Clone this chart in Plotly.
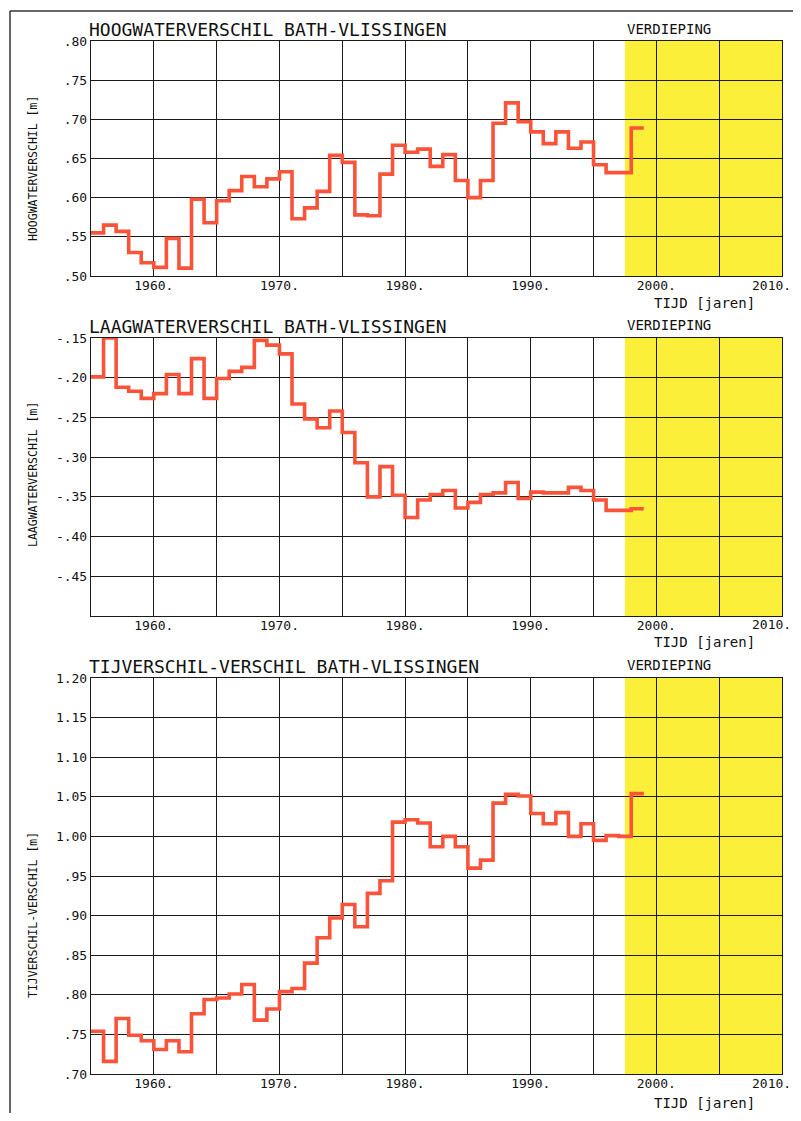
import plotly.graph_objects as go
from plotly.subplots import make_subplots

# ---- data ----
years = list(range(1955, 1999))  # each value holds for one year

hoogwater = [0.555, 0.565, 0.557, 0.530, 0.517, 0.511, 0.548, 0.510, 0.598, 0.568,
             0.596, 0.609, 0.627, 0.614, 0.624, 0.633, 0.573, 0.587, 0.608, 0.654,
             0.645, 0.578, 0.577, 0.630, 0.667, 0.658, 0.662, 0.640, 0.655, 0.622,
             0.600, 0.622, 0.695, 0.721, 0.697, 0.684, 0.669, 0.684, 0.663, 0.671,
             0.642, 0.632, 0.632, 0.689]

laagwater = [-0.199, -0.150, -0.212, -0.217, -0.226, -0.220, -0.196, -0.220, -0.176, -0.226,
             -0.201, -0.192, -0.187, -0.153, -0.159, -0.170, -0.233, -0.252, -0.263, -0.242,
             -0.269, -0.307, -0.350, -0.312, -0.348, -0.376, -0.354, -0.347, -0.342, -0.364,
             -0.357, -0.347, -0.345, -0.332, -0.352, -0.344, -0.345, -0.345, -0.338, -0.342,
             -0.354, -0.367, -0.367, -0.365]

tijverschil = [0.754, 0.716, 0.770, 0.749, 0.742, 0.731, 0.742, 0.728, 0.776, 0.794,
               0.796, 0.801, 0.813, 0.768, 0.782, 0.804, 0.808, 0.840, 0.872, 0.897,
               0.914, 0.886, 0.928, 0.944, 1.018, 1.021, 1.017, 0.987, 1.000, 0.987,
               0.960, 0.970, 1.042, 1.053, 1.051, 1.029, 1.016, 1.030, 1.000, 1.016,
               0.995, 1.001, 1.000, 1.054]

series_end = 1999
verdieping_start = 1997.5
x_range = [1955, 2010]

x_tickvals = [1960, 1965, 1970, 1975, 1980, 1985, 1990, 1995, 2000, 2005, 2010]
x_ticktext = ["1960.", "", "1970.", "", "1980.", "", "1990.", "", "2000.", "", ""]
last_tick_label = "2010."

hw_ticks = [0.50, 0.55, 0.60, 0.65, 0.70, 0.75, 0.80]
hw_labels = [".50", ".55", ".60", ".65", ".70", ".75", ".80"]
lw_ticks = [-0.50, -0.45, -0.40, -0.35, -0.30, -0.25, -0.20, -0.15]
lw_labels = ["", "-.45", "-.40", "-.35", "-.30", "-.25", "-.20", "-.15"]
tv_ticks = [0.70, 0.75, 0.80, 0.85, 0.90, 0.95, 1.00, 1.05, 1.10, 1.15, 1.20]
tv_labels = [".70", ".75", ".80", ".85", ".90", ".95", "1.00", "1.05", "1.10", "1.15", "1.20"]

titles = ["HOOGWATERVERSCHIL BATH-VLISSINGEN",
          "LAAGWATERVERSCHIL BATH-VLISSINGEN",
          "TIJVERSCHIL-VERSCHIL BATH-VLISSINGEN"]
ytitles = ["HOOGWATERVERSCHIL [m]", "LAAGWATERVERSCHIL [m]", "TIJVERSCHIL-VERSCHIL [m]"]

# ---- layout geometry (page pixels; the page body has an 8px margin) ----
OFF = 8
W, H = 801 - 2 * OFF, 1121 - 2 * OFF   # keep the page free of scrollbars
PLOT_L, PLOT_R, PLOT_T, PLOT_B = 91, 782, 41, 1074   # page coords
L = PLOT_L - OFF
T = PLOT_T - OFF
R = W - (PLOT_R - OFF)
B = H - (PLOT_B - OFF)
PH = PLOT_B - PLOT_T
PW = PLOT_R - PLOT_L

def py(y):  # page pixel y -> paper
    return (PLOT_B - y) / PH

def px(x):  # page pixel x -> paper
    return (x - PLOT_L) / PW

FONT = "DejaVu Sans Mono"
LINE = "#F9533A"
YELLOW = "#FCEF3A"
GRID = "#1a1a1a"

fig = make_subplots(rows=3, cols=1)

domains = [(py(276), py(41)), (py(616), py(338)), (py(1074), py(678))]
series = [hoogwater, laagwater, tijverschil]
yranges = [[0.50, 0.80], [-0.50, -0.15], [0.70, 1.20]]
yticks = [(hw_ticks, hw_labels), (lw_ticks, lw_labels), (tv_ticks, tv_labels)]

for i in range(3):
    vals = series[i]
    xs = years + [series_end]
    ys = vals + [vals[-1]]
    fig.add_trace(go.Scatter(x=xs, y=ys, mode="lines", line=dict(color=LINE, width=3.6, shape="hv"),
                             showlegend=False, hoverinfo="skip"), row=i + 1, col=1)
    ax = "" if i == 0 else str(i + 1)
    fig.add_shape(type="rect", xref="x" + ax, yref="y" + ax,
                  x0=verdieping_start, x1=x_range[1], y0=yranges[i][0], y1=yranges[i][1],
                  fillcolor=YELLOW, line=dict(width=0), layer="below")
    fig.update_xaxes(row=i + 1, col=1, range=x_range, tickvals=x_tickvals, ticktext=x_ticktext,
                     showgrid=True, gridcolor=GRID, gridwidth=1.4, showline=True, linecolor=GRID,
                     linewidth=1.4, mirror=True, zeroline=False, ticks="", ticklen=0,
                     ticklabeloverflow="allow", ticklabelstandoff=-3, automargin=False,
                     tickfont=dict(family=FONT, size=13, color="#111"))
    fig.update_yaxes(row=i + 1, col=1, range=yranges[i], tickvals=yticks[i][0], ticktext=yticks[i][1],
                     domain=list(domains[i]), automargin=False,
                     showgrid=True, gridcolor=GRID, gridwidth=1.4, showline=True, linecolor=GRID,
                     linewidth=1.4, mirror=True, zeroline=False, ticks="", ticklen=0,
                     ticklabeloverflow="allow",
                     tickfont=dict(family=FONT, size=13, color="#111"))

# annotations
title_y = [30, 326, 666]
ytitle_y = [169, 475, 915]
tijd_y = [303, 642, 1103]
xlabel_y = [285, 624, 1083]
ann = []
for i in range(3):
    ax = "" if i == 0 else str(i + 1)
    ann.append(dict(text=titles[i], xref="paper", yref="paper", x=px(87), y=py(title_y[i]),
                    xanchor="left", yanchor="middle", showarrow=False,
                    font=dict(family=FONT, size=18, color="#111")))
    ann.append(dict(text="VERDIEPING", xref="x" + ax, yref="paper", x=verdieping_start, y=py(title_y[i] - 1),
                    xanchor="left", yanchor="middle", showarrow=False,
                    font=dict(family=FONT, size=14, color="#111")))
    ann.append(dict(text=ytitles[i], xref="paper", yref="paper", x=px(33), y=py(ytitle_y[i]),
                    xanchor="center", yanchor="middle", textangle=-90, showarrow=False,
                    font=dict(family=FONT, size=11.5, color="#111")))
    ann.append(dict(text="TIJD [jaren]", xref="paper", yref="paper", x=px(704), y=py(tijd_y[i]),
                    xanchor="center", yanchor="middle", showarrow=False,
                    font=dict(family=FONT, size=14, color="#111")))
    ann.append(dict(text=last_tick_label, xref="x" + ax, yref="paper", x=x_range[1], y=py(xlabel_y[i]),
                    xanchor="right", yanchor="middle", xshift=11, showarrow=False,
                    font=dict(family=FONT, size=13, color="#111")))

# page frame
shapes = [
    dict(type="line", xref="paper", yref="paper", x0=px(10), x1=px(10), y0=py(11), y1=py(1130),
         line=dict(color="#333", width=1.5), layer="above"),
    dict(type="line", xref="paper", yref="paper", x0=px(10), x1=px(810), y0=py(11), y1=py(11),
         line=dict(color="#333", width=1.5), layer="above"),
]
for s in shapes:
    fig.add_shape(**s)

fig.update_layout(width=W, height=H, margin=dict(l=L, r=R, t=T, b=B, pad=0, autoexpand=False),
                  paper_bgcolor="white", plot_bgcolor="white", annotations=ann)

fig.write_html("out.html")
